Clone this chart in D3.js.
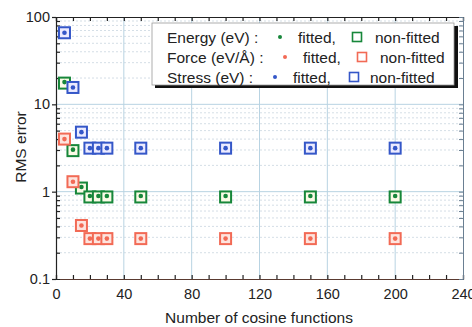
<!DOCTYPE html>
<html>
<head>
<meta charset="utf-8">
<script src="https://cdn.jsdelivr.net/npm/d3@7"></script>
<style>
  body { margin: 0; background: #fff; }
  svg { font-family: "Liberation Sans", Arial, sans-serif; }
</style>
</head>
<body>
<svg id="chart" width="472" height="327"></svg>
<script>
// number of cosine functions
const nCos = [5, 10, 15, 20, 25, 30, 50, 100, 150, 200];
// RMS errors
const energyRms = [17.5, 2.95, 1.1, 0.87, 0.87, 0.87, 0.87, 0.87, 0.87, 0.87];
const forceRms = [4.0, 1.3, 0.41, 0.29, 0.29, 0.29, 0.29, 0.29, 0.29, 0.29];
const stressRms = [66, 15.6, 4.8, 3.15, 3.15, 3.15, 3.15, 3.15, 3.15, 3.15];
const xTicks = [0, 40, 80, 120, 160, 200, 240];
const yTicks = [0.1, 1, 10, 100];

const series = [
    { name: "Energy (eV) :", values: energyRms, color: "#17873a", fill: "#fbfbe6" },
    { name: "Force (eV/Å) :", values: forceRms, color: "#f26a55", fill: "#fde4de" },
    { name: "Stress (eV) :", values: stressRms, color: "#3557c8", fill: "#ecebff" }
];

const svg = d3.select("#chart");
const pLeft = 56, pRight = 463, pTop = 17, pBottom = 279;

const x = d3.scaleLinear().domain([0, 240]).range([pLeft, pRight]);
const y = d3.scaleLog().domain([0.1, 100]).range([pBottom, pTop]);

// minor log values
const minorY = [];
[0.1, 1, 10].forEach(d => {
    for (let k = 2; k <= 9; k++) minorY.push(d * k);
});
const minorX = d3.range(0, 241, 10);

// grid
const grid = svg.append("g");
grid.selectAll("line.minor")
    .data(minorY)
    .enter().append("line")
    .attr("x1", pLeft).attr("x2", pRight)
    .attr("y1", d => y(d)).attr("y2", d => y(d))
    .attr("stroke", "#c9d6e0")
    .attr("stroke-width", 0.8)
    .attr("stroke-dasharray", "2,2");
grid.selectAll("line.hmaj")
    .data(yTicks.slice(1, 3))
    .enter().append("line")
    .attr("x1", pLeft).attr("x2", pRight)
    .attr("y1", d => y(d)).attr("y2", d => y(d))
    .attr("stroke", "#b8d3e2")
    .attr("stroke-width", 1);
grid.selectAll("line.vmaj")
    .data(xTicks.slice(1, 6))
    .enter().append("line")
    .attr("x1", d => x(d)).attr("x2", d => x(d))
    .attr("y1", pTop).attr("y2", pBottom)
    .attr("stroke", "#b8d3e2")
    .attr("stroke-width", 1);

// axes
const xAxis = d3.axisBottom(x).tickValues(minorX).tickSize(-4).tickFormat(d => xTicks.includes(d) ? d : "");
const gx = svg.append("g").attr("transform", `translate(0,${pBottom})`).call(xAxis);
gx.selectAll("text").attr("dy", "1.2em").attr("font-size", 14.5).attr("fill", "#222");

const xTop = d3.axisTop(x).tickValues(minorX).tickSize(-4).tickFormat("");
const gxt = svg.append("g").attr("transform", `translate(0,${pTop})`).call(xTop);

const allY = yTicks.concat(minorY);
const yAxis = d3.axisLeft(y).tickValues(allY).tickSize(-4).tickFormat(d => yTicks.includes(d) ? d : "");
const gy = svg.append("g").attr("transform", `translate(${pLeft},0)`).call(yAxis);
gy.selectAll("text").attr("x", -6).attr("font-size", 14.5).attr("fill", "#222");
gy.selectAll(".tick line").attr("x2", d => yTicks.includes(d) ? -4 : 4).attr("x1", 0);

const yRight = d3.axisRight(y).tickValues(allY).tickSize(-4).tickFormat("");
const gyr = svg.append("g").attr("transform", `translate(${pRight},0)`).call(yRight);
gyr.selectAll("path, line").attr("stroke", "#6a7f92");

[gx, gy, gxt].forEach(g => g.selectAll("path, line").attr("stroke", "#222").attr("stroke-width", 1.2));
gx.select("path").attr("stroke", "#5a3a30");

// markers
series.forEach((s, si) => {
    const g = svg.append("g");
    g.selectAll("rect")
        .data(s.values)
        .enter().append("rect")
        .attr("x", (d, i) => x(nCos[i]) - 5.5)
        .attr("y", d => y(d) - 5.5)
        .attr("width", 11).attr("height", 11)
        .attr("fill", s.fill)
        .attr("stroke", s.color)
        .attr("stroke-width", 2);
    g.selectAll("circle")
        .data(s.values)
        .enter().append("circle")
        .attr("cx", (d, i) => x(nCos[i]))
        .attr("cy", d => y(d) - (si === 0 ? 1 : 0))
        .attr("r", 2.3)
        .attr("fill", s.color);
});

// legend
const lg = svg.append("g");
lg.append("rect").attr("x", 155).attr("y", 26).attr("width", 303).attr("height", 62).attr("fill", "#111");
lg.append("rect").attr("x", 152).attr("y", 23).attr("width", 302).attr("height", 62)
    .attr("fill", "#fff").attr("stroke", "#999").attr("stroke-width", 0.8);
const lx = [[167, 280, 298, 357, 375], [167, 285, 303, 362, 380], [167, 275, 293, 354, 370]];
series.forEach((s, i) => {
    const cy = 37 + i * 20;
    const p = lx[i];
    lg.append("text").attr("x", p[0]).attr("y", cy + 5.5).attr("font-size", 15.5).attr("fill", "#222").text(s.name);
    lg.append("circle").attr("cx", p[1]).attr("cy", cy).attr("r", 2).attr("fill", s.color);
    lg.append("text").attr("x", p[2]).attr("y", cy + 5.5).attr("font-size", 15.5).attr("fill", "#222").text("fitted,");
    lg.append("rect").attr("x", p[3] - 4.5).attr("y", cy - 4.5).attr("width", 9).attr("height", 9)
        .attr("fill", "#fff").attr("stroke", s.color).attr("stroke-width", 1.6);
    lg.append("text").attr("x", p[4]).attr("y", cy + 5.5).attr("font-size", 15.5).attr("fill", "#222").text("non-fitted");
});

// axis titles
svg.append("text").attr("x", 259).attr("y", 323).attr("text-anchor", "middle")
    .attr("font-size", 15.5).attr("fill", "#222").text("Number of cosine functions");
svg.append("text").attr("transform", "translate(26,147) rotate(-90)").attr("text-anchor", "middle")
    .attr("font-size", 15.5).attr("fill", "#222").text("RMS error");
</script>
</body>
</html>
